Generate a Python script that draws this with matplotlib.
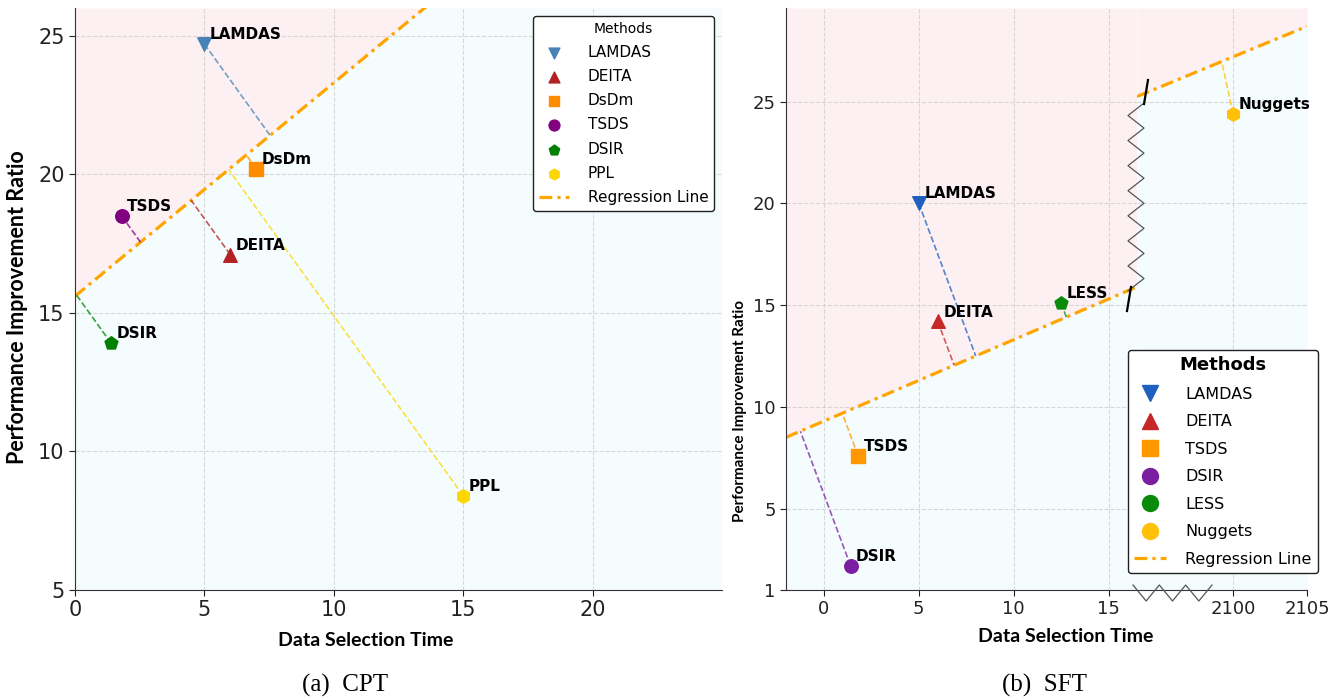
import numpy as np
import matplotlib
matplotlib.use('Agg')
import matplotlib.pyplot as plt
from matplotlib.lines import Line2D

W, H = 1344, 700
DPI = 100

# (a) CPT
cpt_methods = ['LAMDAS', 'DEITA', 'DsDm', 'TSDS', 'DSIR', 'PPL']
cpt_time = [5.0, 6.0, 7.0, 1.8, 1.4, 15.0]
cpt_ratio = [24.7, 17.1, 20.2, 18.5, 13.9, 8.4]
cpt_colors = ['#4682b4', '#b22222', '#ff8c00', '#800080', '#008000', '#ffd700']
cpt_markers = ['v', '^', 's', 'o', 'p', 'h']
cpt_fit = (0.77, 15.6)  # slope, intercept

# (b) SFT
sft_methods = ['LAMDAS', 'DEITA', 'TSDS', 'DSIR', 'LESS', 'Nuggets']
sft_time = [5.0, 6.0, 1.8, 1.4, 12.5, 2100.0]
sft_ratio = [20.0, 14.2, 7.6, 2.2, 15.1, 24.4]
sft_colors = ['#1f5fbf', '#c62828', '#ff9800', '#7b1fa2', '#0a8a0a', '#ffc107']
sft_markers = ['v', '^', 's', 'o', 'p', 'h']
sft_legend_markers = ['v', '^', 's', 'o', 'o', 'o']
sft_fit_low = (0.4, 9.3)
sft_fit_high = (0.3, 27.2 - 0.3 * 2100)
SFT_SPLIT = 1000  # x beyond this goes on the right-hand piece of the broken axis

PINK = '#fdf0f3'
CYAN = '#f5fcfd'
FIT_COLOR = '#ffa500'
FIT_DASH = (0, (4, 1.6, 1, 1.6))
SPINE = '#333333'


def px_axes(fig, l, t, r, b):
    return fig.add_axes([l / W, 1 - b / H, (r - l) / W, (b - t) / H])


def px_line(fig, xs, ys, **kw):
    fig.add_artist(Line2D(np.asarray(xs) / W, 1 - np.asarray(ys) / H, **kw))


def shade_and_fit(ax, m, b):
    x1, x2 = ax.get_xlim()
    y1, y2 = ax.get_ylim()
    xs = np.array([x1, x2])
    ys = m * xs + b
    ax.fill_between(xs, ys, y2, color=PINK, lw=0, zorder=0)
    ax.fill_between(xs, y1, ys, color=CYAN, lw=0, zorder=0)
    ax.plot(xs, ys, color=FIT_COLOR, lw=2.3, ls=FIT_DASH, zorder=2)
    ax.set_xlim(x1, x2)
    ax.set_ylim(y1, y2)


def foot(x0, y0, m, b):
    """Perpendicular foot (data space) of a point onto the fit line."""
    t = (x0 + m * (y0 - b)) / (1 + m * m)
    return t, m * t + b


def style_axes(ax, labelsize):
    ax.set_axisbelow(True)
    ax.grid(True, ls='--', color='#cfcfcf', lw=0.8, alpha=0.8)
    for s in ['top', 'right']:
        ax.spines[s].set_visible(False)
    for s in ['left', 'bottom']:
        ax.spines[s].set_color(SPINE)
    ax.tick_params(labelsize=labelsize, colors='#222222', length=4)


def point(ax, x, y, name, color, marker, fit):
    fx, fy = foot(x, y, *fit)
    ax.plot([x, fx], [y, fy], ls='--', color=color, lw=1.2, alpha=0.75, zorder=3)
    ax.scatter([x], [y], s=95, color=color, marker=marker, zorder=5, label=name)
    ax.annotate(name, (x, y), xytext=(4, 3.5), textcoords='offset points',
                fontsize=11, fontweight='bold', ha='left', va='baseline', zorder=6)


fig = plt.figure(figsize=(W / DPI, H / DPI), dpi=DPI)

# ---- (a) CPT ----
ax = px_axes(fig, 75, 8, 722, 590)
ax.set_xlim(0, 25)
ax.set_ylim(5, 26)
style_axes(ax, 15)
ax.set_xticks([0, 5, 10, 15, 20])
ax.set_yticks([5, 10, 15, 20, 25])
shade_and_fit(ax, *cpt_fit)
for x, y, n, c, mk in zip(cpt_time, cpt_ratio, cpt_methods, cpt_colors, cpt_markers):
    point(ax, x, y, n, c, mk, cpt_fit)
handles, labels = ax.get_legend_handles_labels()
handles.append(Line2D([], [], color=FIT_COLOR, lw=2.3, ls=FIT_DASH))
labels.append('Regression Line')
leg = ax.legend(handles, labels, title='Methods', loc='upper right', fontsize=11,
                title_fontsize=10, labelspacing=0.6, framealpha=1, edgecolor='#222222',
                borderaxespad=0.5, handletextpad=1.2, markerscale=0.8)
leg.get_frame().set_linewidth(1.0)

# ---- (b) SFT, broken x axis ----
ax_lo = px_axes(fig, 786, 8, 1137, 590)
ax_hi = px_axes(fig, 1137, 8, 1307, 590)
ax_lo.set_xlim(-2, 16.5)
ax_hi.set_xlim(2093.5, 2105)
for a in (ax_lo, ax_hi):
    a.set_ylim(1, 29.6)
    style_axes(a, 13)
    a.set_yticks([1, 5, 10, 15, 20, 25])
ax_lo.set_xticks([0, 5, 10, 15])
ax_hi.set_xticks([2100, 2105])
ax_hi.spines['left'].set_visible(False)
ax_hi.tick_params(left=False, labelleft=False)
shade_and_fit(ax_lo, *sft_fit_low)
shade_and_fit(ax_hi, *sft_fit_high)
for x, y, n, c, mk in zip(sft_time, sft_ratio, sft_methods, sft_colors, sft_markers):
    if x > SFT_SPLIT:
        point(ax_hi, x, y, n, c, mk, sft_fit_high)
    else:
        point(ax_lo, x, y, n, c, mk, sft_fit_low)

sft_handles = [Line2D([], [], ls='', marker=mk, color=c, markersize=11.5)
               for mk, c in zip(sft_legend_markers, sft_colors)]
sft_handles.append(Line2D([], [], color=FIT_COLOR, lw=2.3, ls=FIT_DASH))
leg2 = fig.legend(sft_handles, sft_methods + ['Regression Line'], title='Methods',
                  loc='upper right', bbox_to_anchor=(1318 / W, 1 - 350 / H),
                  fontsize=11.5, title_fontproperties={'size': 13, 'weight': 'bold'},
                  labelspacing=0.78, framealpha=1, edgecolor='#222222',
                  handletextpad=1.2, borderaxespad=0)
leg2.get_frame().set_linewidth(1.0)

# break decorations
zy = np.linspace(103, 291, 16)
zx = np.where(np.arange(16) % 2 == 0, 1144, 1128)
px_line(fig, zx, zy, color='#555555', lw=0.9)
bx = np.linspace(1133, 1212, 7)
by = np.where(np.arange(7) % 2 == 0, 585, 601)
px_line(fig, bx, by, color='#555555', lw=0.9)
px_line(fig, [1148, 1144], [80, 104], color='black', lw=1.6)
px_line(fig, [1131, 1127], [287, 311], color='black', lw=1.6)

# axis labels and captions
lab = dict(family='Lato', fontweight='bold', ha='center', va='center')
fig.text(366 / W, 1 - 640 / H, 'Data Selection Time', fontsize=14, **lab)
fig.text(18 / W, 1 - 307 / H, 'Performance Improvement Ratio', fontsize=15.5, rotation=90, **lab)
fig.text(1066 / W, 1 - 636 / H, 'Data Selection Time', fontsize=14, **lab)
fig.text(740 / W, 1 - 411 / H, 'Performance Improvement Ratio', fontsize=11, rotation=90, **lab)
cap = dict(family='Liberation Serif', fontsize=18, ha='center', va='center')
fig.text(345 / W, 1 - 685 / H, '(a)  CPT', **cap)
fig.text(1045 / W, 1 - 685 / H, '(b)  SFT', **cap)

fig.savefig('out.png', dpi=DPI)
